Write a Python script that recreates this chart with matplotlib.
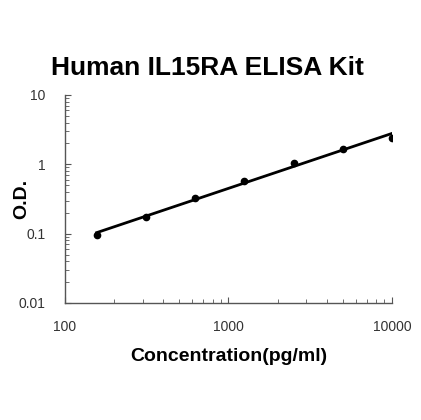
import numpy as np
import matplotlib.pyplot as plt
from matplotlib.ticker import LogLocator, FixedLocator, NullFormatter

# standard curve points
conc = [156.25, 312.5, 625, 1250, 2500, 5000, 10000]
od = [0.096, 0.172, 0.323, 0.574, 1.05, 1.64, 2.42]

title = "Human IL15RA ELISA Kit"
xlabel = "Concentration(pg/ml)"
ylabel = "O.D."
xticks = [100, 1000, 10000]
xtick_labels = ["100", "1000", "10000"]
yticks = [0.01, 0.1, 1, 10]
ytick_labels = ["0.01", "0.1", "1", "10"]

plt.rcParams['font.family'] = ['Liberation Sans', 'DejaVu Sans']

fig = plt.figure(figsize=(4.21, 4.20), dpi=100)
ax = fig.add_axes([0.1544, 0.2786, 0.7766, 0.4954])

# log-log linear fit through the standards
coef = np.polyfit(np.log10(conc), np.log10(od), 1)
x_fit = np.logspace(np.log10(conc[0]), np.log10(conc[-1]), 100)
y_fit = 10 ** np.polyval(coef, np.log10(x_fit))

ax.plot(x_fit, y_fit, color='black', linewidth=2.0, zorder=2)
ax.plot(conc, od, 'o', color='black', markersize=4.5, zorder=3)

ax.set_xscale('log')
ax.set_yscale('log')
ax.set_xlim(100, 10000)
ax.set_ylim(0.01, 10)

ax.xaxis.set_major_locator(FixedLocator(xticks))
ax.set_xticklabels(xtick_labels)
ax.yaxis.set_major_locator(FixedLocator(yticks))
ax.set_yticklabels(ytick_labels)
ax.xaxis.set_minor_locator(LogLocator(base=10, subs=np.arange(2, 10)))
ax.yaxis.set_minor_locator(LogLocator(base=10, subs=np.arange(2, 10)))
ax.xaxis.set_minor_formatter(NullFormatter())
ax.yaxis.set_minor_formatter(NullFormatter())

for side in ['top', 'right']:
    ax.spines[side].set_visible(False)
for side in ['left', 'bottom']:
    ax.spines[side].set_color('#555555')
    ax.spines[side].set_linewidth(1.0)

ax.tick_params(which='both', direction='in', color='#555555', labelsize=10,
               labelcolor='#333333')
ax.tick_params(which='major', length=4, pad=12)
ax.tick_params(which='minor', length=3)
ax.tick_params(axis='y', which='major', pad=14)

fig.text(0.492, 0.838, title, ha='center', va='center',
         fontsize=19, fontweight='bold')
ax.set_xlabel(xlabel, fontsize=14, fontweight='bold', labelpad=10)
ax.set_ylabel(ylabel, fontsize=14, fontweight='bold')
ax.yaxis.set_label_coords(-0.105, 0.5)

fig.savefig('out.png', dpi=100)
